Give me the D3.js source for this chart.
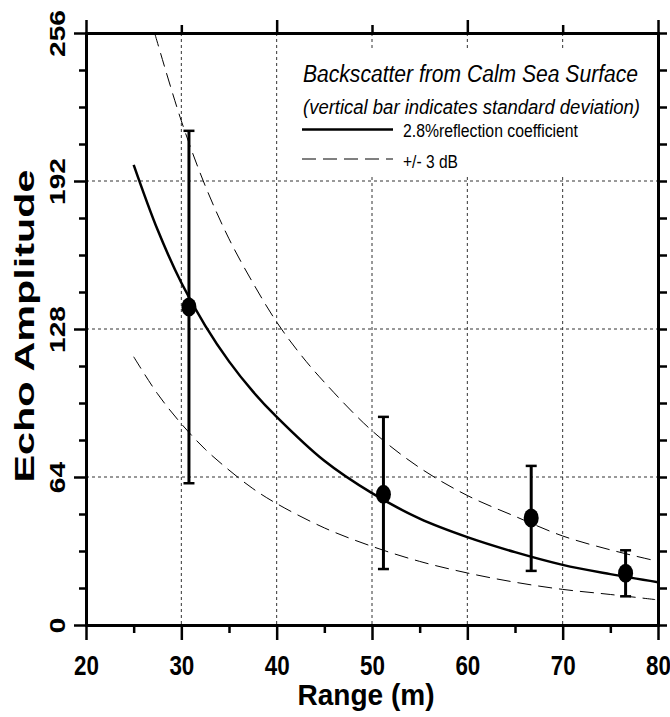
<!DOCTYPE html>
<html>
<head>
<meta charset="utf-8">
<script src="https://cdn.jsdelivr.net/npm/d3@7"></script>
<style>
  body { margin: 0; background: #fff; }
  text { font-family: "Liberation Sans", Arial, sans-serif; }
</style>
</head>
<body>
<svg id="chart"></svg>
<script>
// axis ticks
const xTicks = [20, 30, 40, 50, 60, 70, 80];
const xMinor = [25, 35, 45, 55, 65, 75];
const yTicks = [0, 64, 128, 192, 256];
const yMinor = [16, 32, 48, 80, 96, 112, 144, 160, 176, 208, 224, 240];

// 2.8% reflection coefficient curve
const fitRange = [25, 27.5, 30, 32.5, 35, 37.5, 40, 45, 50, 55, 60, 65, 70, 75, 80];
const fitAmp = [199, 171, 148, 129.5, 114, 101, 90, 71, 57, 46, 38, 31.5, 26, 22, 18.5];

// +3 dB / -3 dB curves
const upperRange = [27.2, 30, 32.5, 35, 37.5, 40, 42.5, 45, 50, 55, 60, 65, 70, 75, 79.5];
const upperAmp = [256, 218, 190, 167, 148, 131, 117, 105, 84, 68, 56, 47, 38.5, 32.5, 28];
const lowerRange = [25, 27.5, 30, 32.5, 35, 37.5, 40, 45, 50, 55, 60, 65, 70, 75, 79.7];
const lowerAmp = [116, 100, 87, 76, 67, 59, 52.5, 42, 34, 27.5, 22.5, 18.5, 15.4, 13.2, 11];

// measured echoes with standard deviation
const pointRange = [30.8, 51.2, 66.7, 76.6];
const pointAmp = [137.5, 56.5, 46.3, 22.4];
const pointLow = [61.3, 24.2, 23.4, 12.4];
const pointHigh = [213.7, 90, 68.8, 32.3];

const width = 670;
const height = 717;
const margin = { top: 33, right: 12, bottom: 92, left: 86 };

const svg = d3.select('#chart')
  .attr('width', width)
  .attr('height', height);

const x = d3.scaleLinear().domain([20, 80]).range([margin.left, width - margin.right]);
const y = d3.scaleLinear().domain([0, 256]).range([height - margin.bottom, margin.top]);

const x0 = x.range()[0], x1 = x.range()[1];
const y0 = y.range()[0], y1 = y.range()[1];

svg.append('defs').append('clipPath')
  .attr('id', 'plot')
  .append('rect')
  .attr('x', x0).attr('y', y1)
  .attr('width', x1 - x0).attr('height', y0 - y1);

// grid lines
const grid = svg.append('g')
  .attr('stroke', '#333')
  .attr('stroke-width', 1)
  .attr('stroke-dasharray', '3,3');

grid.selectAll('.vgrid')
  .data(xTicks.slice(1, -1))
  .enter()
  .append('line')
  .attr('x1', d => x(d)).attr('x2', d => x(d))
  .attr('y1', y1).attr('y2', y0);

grid.selectAll('.hgrid')
  .data(yTicks.slice(1, -1))
  .enter()
  .append('line')
  .attr('x1', x0).attr('x2', x1)
  .attr('y1', d => y(d)).attr('y2', d => y(d));

// legend background
svg.append('rect')
  .attr('x', 290).attr('y', 48)
  .attr('width', 364).attr('height', 127)
  .attr('fill', '#fff');

// curves
const plot = svg.append('g').attr('clip-path', 'url(#plot)');

const line = d3.line()
  .x(d => x(d[0]))
  .y(d => y(d[1]))
  .curve(d3.curveCatmullRom.alpha(0.5));

plot.append('path')
  .datum(d3.zip(upperRange, upperAmp))
  .attr('fill', 'none')
  .attr('stroke', '#000')
  .attr('stroke-width', 1)
  .attr('stroke-dasharray', '14,7')
  .attr('d', line);

plot.append('path')
  .datum(d3.zip(lowerRange, lowerAmp))
  .attr('fill', 'none')
  .attr('stroke', '#000')
  .attr('stroke-width', 1)
  .attr('stroke-dasharray', '14,7')
  .attr('d', line);

plot.append('path')
  .datum(d3.zip(fitRange, fitAmp))
  .attr('fill', 'none')
  .attr('stroke', '#000')
  .attr('stroke-width', 2.5)
  .attr('d', line);

// error bars and points
const pts = pointRange.map((r, i) => ({ r, a: pointAmp[i], lo: pointLow[i], hi: pointHigh[i] }));

const bars = svg.append('g').attr('stroke', '#000');

bars.selectAll('.bar')
  .data(pts)
  .enter()
  .append('line')
  .attr('x1', d => x(d.r)).attr('x2', d => x(d.r))
  .attr('y1', d => y(d.lo)).attr('y2', d => y(d.hi))
  .attr('stroke-width', 3);

bars.selectAll('.capHi')
  .data(pts)
  .enter()
  .append('line')
  .attr('x1', d => x(d.r) - 5.5).attr('x2', d => x(d.r) + 5.5)
  .attr('y1', d => y(d.hi)).attr('y2', d => y(d.hi))
  .attr('stroke-width', 2.5);

bars.selectAll('.capLo')
  .data(pts)
  .enter()
  .append('line')
  .attr('x1', d => x(d.r) - 5.5).attr('x2', d => x(d.r) + 5.5)
  .attr('y1', d => y(d.lo)).attr('y2', d => y(d.lo))
  .attr('stroke-width', 2.5);

svg.selectAll('.pt')
  .data(pts)
  .enter()
  .append('ellipse')
  .attr('cx', d => x(d.r))
  .attr('cy', d => y(d.a))
  .attr('rx', 7.5)
  .attr('ry', 9.5)
  .attr('fill', '#000');

// axes
const styleAxis = (g) => {
  g.select('.domain').attr('stroke-width', 3).attr('stroke-linecap', 'square');
  g.selectAll('.tick line').attr('stroke-width', 2.5);
};

svg.append('g')
  .attr('transform', `translate(0,${y0})`)
  .call(d3.axisBottom(x).tickValues(xMinor).tickSize(8).tickSizeOuter(0).tickFormat(''))
  .call(styleAxis);

const xAxis = svg.append('g')
  .attr('transform', `translate(0,${y0})`)
  .call(d3.axisBottom(x).tickValues(xTicks).tickSize(15).tickSizeOuter(0).tickFormat(d3.format('d')))
  .call(styleAxis);

xAxis.selectAll('text')
  .attr('y', null).attr('dy', null)
  .attr('transform', 'translate(0,50) scale(0.8,1)')
  .attr('font-size', '28px')
  .attr('font-weight', 'bold')
  .attr('fill', '#000');

svg.append('g')
  .attr('transform', `translate(${x0},0)`)
  .call(d3.axisLeft(y).tickValues(yMinor).tickSize(7).tickSizeOuter(0).tickFormat(''))
  .call(styleAxis);

const yAxis = svg.append('g')
  .attr('transform', `translate(${x0},0)`)
  .call(d3.axisLeft(y).tickValues(yTicks).tickSize(12).tickSizeOuter(0))
  .call(styleAxis);

yAxis.selectAll('text')
  .attr('x', null).attr('dy', null)
  .attr('text-anchor', 'middle')
  .attr('transform', 'translate(-21,0) rotate(-90) scale(1.28,1)')
  .attr('font-size', '22px')
  .attr('font-weight', 'bold')
  .attr('fill', '#000');

svg.append('g')
  .attr('transform', `translate(0,${y1})`)
  .call(d3.axisTop(x).tickValues([30, 50, 70]).tickSize(8).tickSizeOuter(0).tickFormat(''))
  .call(styleAxis);

svg.append('g')
  .attr('transform', `translate(0,${y1})`)
  .call(d3.axisTop(x).tickValues([20, 40, 60, 80]).tickSize(13).tickSizeOuter(0).tickFormat(''))
  .call(styleAxis);

svg.append('g')
  .attr('transform', `translate(${x1},0)`)
  .call(d3.axisRight(y).tickValues(d3.range(0, 257, 16)).tickSize(9).tickSizeOuter(0).tickFormat(''))
  .call(styleAxis);

// axis titles
svg.append('text')
  .attr('x', 366)
  .attr('y', 705)
  .attr('text-anchor', 'middle')
  .attr('font-size', '30px')
  .attr('font-weight', 'bold')
  .attr('textLength', 137)
  .attr('lengthAdjust', 'spacingAndGlyphs')
  .text('Range (m)');

svg.append('text')
  .attr('transform', 'translate(34,326) rotate(-90)')
  .attr('text-anchor', 'middle')
  .attr('font-size', '28px')
  .attr('font-weight', 'bold')
  .attr('textLength', 313)
  .attr('lengthAdjust', 'spacingAndGlyphs')
  .text('Echo Amplitude');

// legend
svg.append('text')
  .attr('x', 303).attr('y', 82)
  .attr('font-size', '23px')
  .attr('font-style', 'italic')
  .attr('textLength', 335)
  .attr('lengthAdjust', 'spacingAndGlyphs')
  .text('Backscatter from Calm Sea Surface');

svg.append('text')
  .attr('x', 303).attr('y', 114)
  .attr('font-size', '20px')
  .attr('font-style', 'italic')
  .attr('textLength', 337)
  .attr('lengthAdjust', 'spacingAndGlyphs')
  .text('(vertical bar indicates standard deviation)');

svg.append('line')
  .attr('x1', 302).attr('x2', 393)
  .attr('y1', 129.5).attr('y2', 129.5)
  .attr('stroke', '#000')
  .attr('stroke-width', 2.5);

svg.append('text')
  .attr('x', 403).attr('y', 137)
  .attr('font-size', '18px')
  .attr('textLength', 175)
  .attr('lengthAdjust', 'spacingAndGlyphs')
  .text('2.8%reflection coefficient');

svg.append('line')
  .attr('x1', 302).attr('x2', 393)
  .attr('y1', 159).attr('y2', 159)
  .attr('stroke', '#000')
  .attr('stroke-width', 1)
  .attr('stroke-dasharray', '14,7');

svg.append('text')
  .attr('x', 403).attr('y', 168)
  .attr('font-size', '18px')
  .attr('textLength', 55)
  .attr('lengthAdjust', 'spacingAndGlyphs')
  .text('+/- 3 dB');
</script>
</body>
</html>
